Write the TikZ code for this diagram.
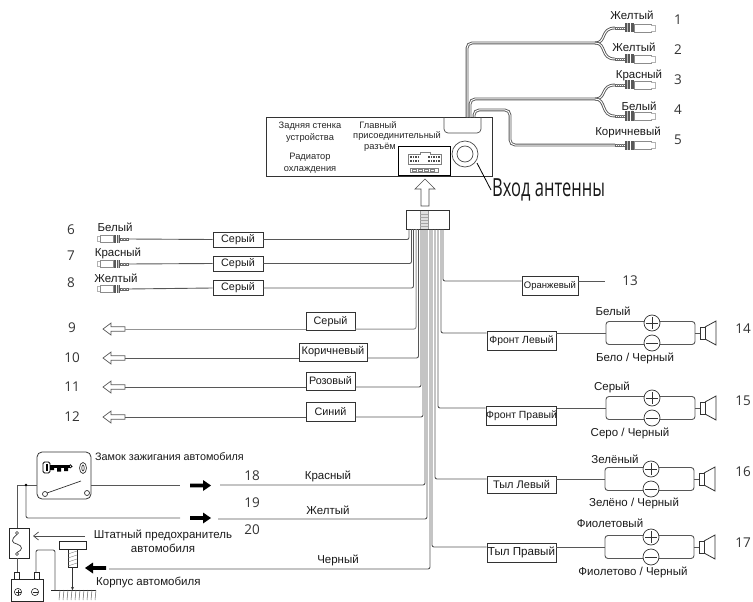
\documentclass[tikz,border=0pt]{standalone}
\usepackage{fontspec}
\setmainfont{Liberation Sans}
\newfontfamily\numfont{Open Sans}
\usetikzlibrary{arrows.meta}
\definecolor{wirecol}{gray}{0.34}
\definecolor{lightwire}{gray}{0.58}
\definecolor{boxline}{gray}{0.2}
\tikzset{
  lbl/.style={inner sep=0pt,font=\fontsize{11.5}{13.5}\selectfont,align=center,text=black!90},
  headlbl/.style={inner sep=0pt,font=\fontsize{9.3}{11.5}\selectfont,align=center,text=black!85},
  numlbl/.style={inner sep=0pt,font=\fontsize{13.5}{15}\selectfont\numfont,text=black!80},
  tagbox/.style={draw=boxline,line width=0.9pt,fill=white,inner sep=0pt,minimum height=#1,font=\fontsize{10.8}{12.5}\selectfont,text=black!90},
  wire/.style={draw=wirecol,line width=0.9pt,rounded corners=2pt},
  lwire/.style={draw=lightwire,line width=1pt,rounded corners=2pt},
  dblwire/.style={draw=wirecol,line width=0.9pt,double=white,double distance=1pt,rounded corners=5pt},
  plugR/.pic={
    \draw[black!60,line width=0.4pt,fill=white] (0,-1.2) rectangle (10,1.2);
    \foreach \q in {2,4,6,8}{\draw[black!50,line width=0.4pt] (\q,-1.2)--(\q,1.2);}
    \fill[black!65] (10,-4.5) rectangle (19,4.5);
    \fill[black!25] (12,-4.5) rectangle (13,4.5);
    \fill[white] (15,-4.5) rectangle (16,4.5);
    \draw[black!45,line width=0.5pt,fill=white] (19,-4) rectangle (36,4);
    \draw[black!30,line width=0.5pt,fill=white] (36,-3) -- (40,-3) -- (40,3) -- (36,3);
  },
  openarrow/.pic={
    \draw[black!65,line width=0.7pt,fill=white,line join=miter]
      (0,0)--(8,-6)--(8,-2.2)--(22,-2.2)--(22,2.2)--(8,2.2)--(8,6)--cycle;
  },
  solidarrow/.pic={
    \fill[black] (0,-1.8)--(13,-1.8)--(13,-5.5)--(21,0)--(13,5.5)--(13,1.8)--(0,1.8)--cycle;
  },
  speakerunit/.pic={
    \draw[wirecol,line width=0.9pt,rounded corners=3pt] (46,-11.5)--(0,-11.5)--(0,11.5)--(46,11.5);
    \draw[wirecol,line width=0.9pt,rounded corners=3pt] (46,-11.5)--(89,-11.5)--(89,11.5)--(46,11.5);
    \draw[black!80,line width=0.7pt,fill=white] (46,-10) circle (8);
    \draw[black!80,line width=0.7pt,fill=white] (46,10) circle (8);
    \draw[black!80,line width=0.8pt] (40,-10)--(52,-10) (46,-16)--(46,-4) (40,10)--(52,10);
    \draw[wirecol,line width=0.9pt] (89,0)--(94,0);
    \draw[black!80,line width=0.8pt,fill=white] (94,-6) rectangle (99,6);
    \draw[black!80,line width=0.8pt] (99,-6)--(110,-12)--(110,12)--(99,6);
  }
}
\begin{document}
\begin{tikzpicture}[x=1pt,y=-1pt]
\useasboundingbox (0,0) rectangle (753,602);
% ---- head unit
\node[draw=black!80,line width=0.8pt,minimum width=226pt,minimum height=59pt,inner sep=0pt] (head) at (379,146.5) {};
\draw[black!70,line width=0.7pt,rounded corners=4pt] (444,117)--(444,133)--(481,133)--(481,117);
\node[draw=black,line width=0.9pt,fill=white,minimum width=52pt,minimum height=29pt,inner sep=0pt] (mainconn) at (424,160.5) {};
\draw[black!50,line width=0.5pt] (408,154)--(420,154)--(420,152)--(430,152)--(430,154)--(441,154)--(441,164)--(408,164)--cycle;
\foreach \q in {410,412.5,...,418,428,430.5,...,439}{\fill[black!70] (\q,156) rectangle +(1.6,1.6); \fill[black!70] (\q,160) rectangle +(1.6,1.6);}
\draw[black!50,line width=0.5pt] (410,168) rectangle (438,172);
\foreach \q in {412,418,424,430}{\draw[black!50,line width=0.4pt] (\q,169) rectangle +(4,2);}
\node[draw=black!70,line width=0.7pt,circle,minimum size=26pt,inner sep=0pt] (antouter) at (465,154) {};
\node[draw=black!70,line width=0.7pt,circle,minimum size=16pt,inner sep=0pt] (antinner) at (465,154) {};
\node[headlbl] (t1) at (310,132) {Задняя стенка\\[0.4pt]устройства};
\node[headlbl] (t2) at (310,163) {Радиатор\\[0.6pt]охлаждения};
\node[headlbl,align=center] (t3a) at (378,125) {Главный};
\node[headlbl] (t3b) at (397,136) {присоединительный};
\node[headlbl] (t3c) at (380,147) {разъём};
\node[inner sep=0pt,anchor=west,font=\fontsize{25}{27}\selectfont\numfont,text=black!90] (ant) at (492,190) {\scalebox{0.66}[1]{Вход антенны}};
\coordinate (antp) at (477,163);
\coordinate (antq) at (491,190);
\draw[black,line width=0.8pt] (antp)--(antq);
% up arrow
\draw[black!70,line width=0.7pt,fill=white] (425,179)--(435,189)--(429,189)--(429,206)--(421,206)--(421,189)--(415,189)--cycle;
% ---- RCA top right
\coordinate (p1) at (615,28);\coordinate (p2) at (615,59);\coordinate (p3) at (615,85);\coordinate (p4) at (615,116);\coordinate (p5) at (615,145);
\coordinate (h1) at (467,117);\coordinate (h2) at (470,117);\coordinate (h3) at (474,117);
\draw[dblwire] (h1)--(467,43)--(595,43);
\draw[dblwire] (h2)--(470,99)--(595,99);
\draw[dblwire] (h3)--(474,110)--(510,110)--(510,145)--(p5);
\draw[dblwire,rounded corners=0pt] (595,43) .. controls (607,43) and (600,28) .. (p1);
\draw[dblwire,rounded corners=0pt] (595,43) .. controls (607,43) and (600,59) .. (p2);
\draw[dblwire,rounded corners=0pt] (595,99) .. controls (607,99) and (600,85) .. (p3);
\draw[dblwire,rounded corners=0pt] (595,99) .. controls (607,99) and (600,116) .. (p4);
\foreach \n in {p1,p2,p3,p4,p5}{\pic at (\n) {plugR};}
\node[lbl] (c1) at (632,15) {Желтый};
\node[lbl] (c2) at (634,47) {Желтый};
\node[lbl] (c3) at (639,75) {Красный};
\node[lbl] (c4) at (639,106) {Белый};
\node[lbl] (c5) at (628,132) {Коричневый};
\node[numlbl] (n1) at (678,20) {1};
\node[numlbl] (n2) at (678,50) {2};
\node[numlbl] (n3) at (678,80) {3};
\node[numlbl] (n4) at (678,110) {4};
\node[numlbl] (n5) at (678,140) {5};
% ---- connector plug and bundle
\foreach \n/\xx in {b1/409,b2/411.5,b3/413.5,b4/416,b5/418.5,b6/421,b7/423,b8/425,b9/427,b10/430,b11/432,b12/435,b13/438,b14/441,b15/443}{\coordinate (\n) at (\xx,229);}
\node[draw=black!80,line width=1pt,fill=white,minimum width=43pt,minimum height=19pt,inner sep=0pt] (plug) at (427.5,219.5) {};
\fill[black!12] (420,210.5) rectangle (428,228.5);
\draw[black!40,line width=0.5pt] (420,210.5)--(420,228.5) (428,210.5)--(428,228.5);
\foreach \q in {214,217,220,223,226}{\draw[black!35,line width=0.4pt] (420,\q)--(428,\q);}
% ---- wires with boxes
\node[tagbox=15pt,minimum width=50pt] (g6) at (238,239.5) {Серый};
\node[tagbox=15pt,minimum width=50pt] (g7) at (238,263.5) {Серый};
\node[tagbox=15pt,minimum width=50pt] (g8) at (238,288) {Серый};
\coordinate (p6) at (128,239);\coordinate (p7) at (128,264);\coordinate (p8) at (128,289);
\draw[wire] (p6)--(g6.west); \draw[wire] (p7)--(g7.west); \draw[wire] (p8)--(g8.west);
\draw[wire] (b1)|-(g6.east);
\draw[wire] (b2)|-(g7.east);
\draw[wire] (b3)|-(g8.east);
\foreach \n in {p6,p7,p8}{\pic[xscale=-0.78,yscale=0.85] at (\n) {plugR};}
\node[lbl] (l6) at (115,227) {Белый};
\node[lbl] (l7) at (118,253) {Красный};
\node[lbl] (l8) at (116,278) {Желтый};
\node[numlbl] (n6) at (71,230) {6};
\node[numlbl] (n7) at (71,256) {7};
\node[numlbl] (n8) at (71,283) {8};
% arrows 9-12
\node[tagbox=18.5pt,minimum width=49pt,fill=white] (g9) at (330.5,321.5) {Серый};
\node[tagbox=18pt,minimum width=68pt,font=\fontsize{11}{13}\selectfont] (g10) at (333,352) {Коричневый};
\node[tagbox=18pt,minimum width=49pt] (g11) at (330.5,381) {Розовый};
\node[tagbox=19pt,minimum width=49pt] (g12) at (330.5,411.5) {Синий};
\foreach \n/\yy in {a9/329,a10/358,a11/387,a12/417}{\coordinate (\n) at (125,\yy); \pic at (103,\yy) {openarrow};}
\draw[lwire] (a9)--(g9.south west |- a9);
\draw[wire] (a10)--(g10.south west |- a10);
\draw[wire] (a11)--(g11.south west |- a11);
\draw[wire] (a12)--(g12.south west |- a12);
\draw[lwire] (b4)|-(g9.south east |- a9);
\draw[wire] (b5)|-(g10.south east |- a10);
\draw[wire] (b6)|-(g11.south east |- a11);
\draw[wire] (b7)|-(g12.south east |- a12);
\node[numlbl] (n9) at (72,328) {9};
\node[numlbl] (n10) at (72,358) {10};
\node[numlbl] (n11) at (72,387) {11};
\node[numlbl] (n12) at (72,417) {12};
% power wires
\coordinate (r18) at (220,485);\coordinate (r19) at (218,519);\coordinate (r20) at (109,569);
\draw[wire] (r18)-|(b8);
\draw[wire] (r19)-|(b9);
\draw[wire] (r20)-|(b10);
\node[lbl] (l18) at (328,476) {Красный};
\node[lbl] (l19) at (328,510) {Желтый};
\node[lbl] (l20) at (338,560) {Черный};
\node[numlbl] (n18) at (252,476) {18};
\node[numlbl] (n19) at (252,503) {19};
\node[numlbl] (n20) at (252,530) {20};
% ---- right side
\node[tagbox=19pt,minimum width=56pt,font=\fontsize{9.5}{11}\selectfont] (g13) at (550,285.5) {Оранжевый};
\coordinate (s13) at (605,281);
\draw[wire] (b15)|-(g13.west |- s13);
\draw[wire] (g13.east |- s13)--(s13);
\node[numlbl] (n13) at (630,281) {13};
\node[tagbox=19pt,minimum width=69pt,font=\fontsize{10.4}{12}\selectfont] (g14) at (521.5,340.5) {Фронт Левый};
\node[tagbox=19pt,minimum width=69pt,font=\fontsize{10.4}{12}\selectfont] (g15) at (521.5,415.5) {Фронт Правый};
\node[tagbox=17pt,minimum width=69pt,font=\fontsize{11}{13}\selectfont] (g16) at (521.5,484.5) {Тыл Левый};
\node[tagbox=19pt,minimum width=69pt,font=\fontsize{11.6}{13}\selectfont] (g17) at (521.5,552.5) {Тыл Правый};
\coordinate (s14) at (606,333);\coordinate (s15) at (606,408);\coordinate (s16) at (605,479);\coordinate (s17) at (605,547);
\draw[wire] (b14)|-(g14.north west |- s14);
\draw[wire] (b13)|-(g15.north west |- s15);
\draw[wire] (b12)|-(g16.north west |- s16);
\draw[wire] (b11)|-(g17.north west |- s17);
\draw[wire] (g14.north east |- s14)--(s14);
\draw[wire] (g15.north east |- s15)--(s15);
\draw[wire] (g16.north east |- s16)--(s16);
\draw[wire] (g17.north east |- s17)--(s17);
\foreach \n in {s14,s15,s16,s17}{\pic at (\n) {speakerunit};}
\node[lbl] (w14) at (613,311) {Белый};
\node[lbl] (k14) at (635,358) {Бело / Черный};
\node[lbl] (w15) at (612,387) {Серый};
\node[lbl] (k15) at (630,433) {Серо / Черный};
\node[lbl] (w16) at (615,459) {Зелёный};
\node[lbl] (k16) at (634,503) {Зелёно / Черный};
\node[lbl] (w17) at (610,523) {Фиолетовый};
\node[lbl] (k17) at (633,572) {Фиолетово / Черный};
\node[numlbl] (n14) at (743,329) {14};
\node[numlbl] (n15) at (743,401) {15};
\node[numlbl] (n16) at (743,472) {16};
\node[numlbl] (n17) at (743,543) {17};
% ---- ignition
\node[draw=black!80,line width=0.8pt,rounded corners=5pt,minimum width=54pt,minimum height=47pt,inner sep=0pt] (lock) at (64,475.5) {};
\draw[black,line width=0.9pt,rounded corners=1.5pt] (43,462) rectangle (50,473);
\fill[black] (45.5,464) rectangle (47.5,471);
\fill[black] (50,464.5) rectangle (70,468);
\fill[black] (50,468) rectangle (54,470) (57,468) rectangle (61,471.5) (64,468) rectangle (68,471);
\draw[black,line width=0.8pt] (70,464.5)--(72,466.5)--(70,468);
\draw[black!80,line width=0.7pt] (83,468) ellipse (3.5 and 5.5);
\draw[black!80,line width=0.7pt] (83,468) ellipse (1.2 and 3);
\draw[black!80,line width=0.7pt] (45,494) circle (2.5);
\draw[black!80,line width=0.7pt] (87,493) circle (2.5);
\draw[black!80,line width=0.7pt] (47,493)--(81,481);
\node[lbl,anchor=west,font=\fontsize{10.8}{13}\selectfont] (lockt) at (95,457) {Замок зажигания автомобиля};
\coordinate (junc) at (26,485);
\coordinate (f18) at (180,485);\coordinate (f19) at (180,518);
\draw[wire] (lock.east |- f18)--(f18);
\draw[wire] (junc)|-(f19);
\node[draw=black!85,line width=0.9pt,minimum width=20pt,minimum height=30pt,inner sep=0pt] (fuse) at (19,543) {};
\draw[wire,rounded corners=0pt] (lock.west |- junc)--(17,485)--(fuse.north -| 17,0);
\fill[black] (junc) circle (1.4);
\pic at (190,485.5) {solidarrow};
\pic at (190,518) {solidarrow};
\pic[xscale=-1] at (106,568) {solidarrow};
\draw[black!80,line width=0.7pt] (17,533) circle (1.5);
\draw[black!80,line width=0.7pt] (17,554) circle (1.5);
\draw[black!80,line width=0.7pt] (17,534.5) .. controls (10,540) and (12,543) .. (17,544) .. controls (23,546) and (23,550) .. (17,552.5);
\coordinate (fa) at (33,536);\coordinate (fb) at (85,536);
\draw[black!70,line width=0.7pt,-{Straight Barb[length=5pt,width=8pt]}] (fb)--(fa);
\node[lbl] (fl1) at (163,535) {Штатный предохранитель};
\node[lbl] (fl2) at (163,548) {автомобиля};
% battery
\node[draw=black!85,line width=0.9pt,minimum width=32pt,minimum height=22pt,inner sep=0pt] (batt) at (27,590) {};
\draw[black!85,line width=0.8pt,fill=white] (14,572) rectangle (19,579);
\draw[black!85,line width=0.8pt,fill=white] (34,572) rectangle (39,579);
\draw[black!85,line width=0.6pt] (18,592) circle (3.6) (35,592) circle (3.6);
\draw[black!85,line width=0.7pt] (15.5,592)--(20.5,592) (18,589.5)--(18,594.5) (32.5,592)--(37.5,592);
\draw[wire] (17,572)--(fuse.south -| 17,0);
\coordinate (gnd) at (55,590);
\draw[wire] (36,572)--(36,550)--(55,550)--(gnd);
% bolt and ground
\node[draw=black!85,line width=0.9pt,fill=white,minimum width=27pt,minimum height=8pt,inner sep=0pt] (bolthead) at (72.5,545) {};
\node[draw=black!85,line width=0.8pt,minimum width=9pt,minimum height=18pt,inner sep=0pt] (bolt) at (72.5,558) {};
\foreach \q in {552,556,560,564}{\draw[black!50,line width=0.4pt] (68,\q+2)--(77,\q-1);}
\draw[black!80,line width=0.7pt,-{Stealth[length=3pt,width=3pt]}] (bolt.south)--(72.5,590);
\draw[black!85,line width=0.9pt] (51,590)--(96,590);
\foreach \q in {60,64,...,96}{\draw[black!60,line width=0.5pt] (\q,590)--(\q-1,600);}
\node[lbl,anchor=west] (gndt) at (96,582) {Корпус автомобиля};
\end{tikzpicture}
\end{document}
